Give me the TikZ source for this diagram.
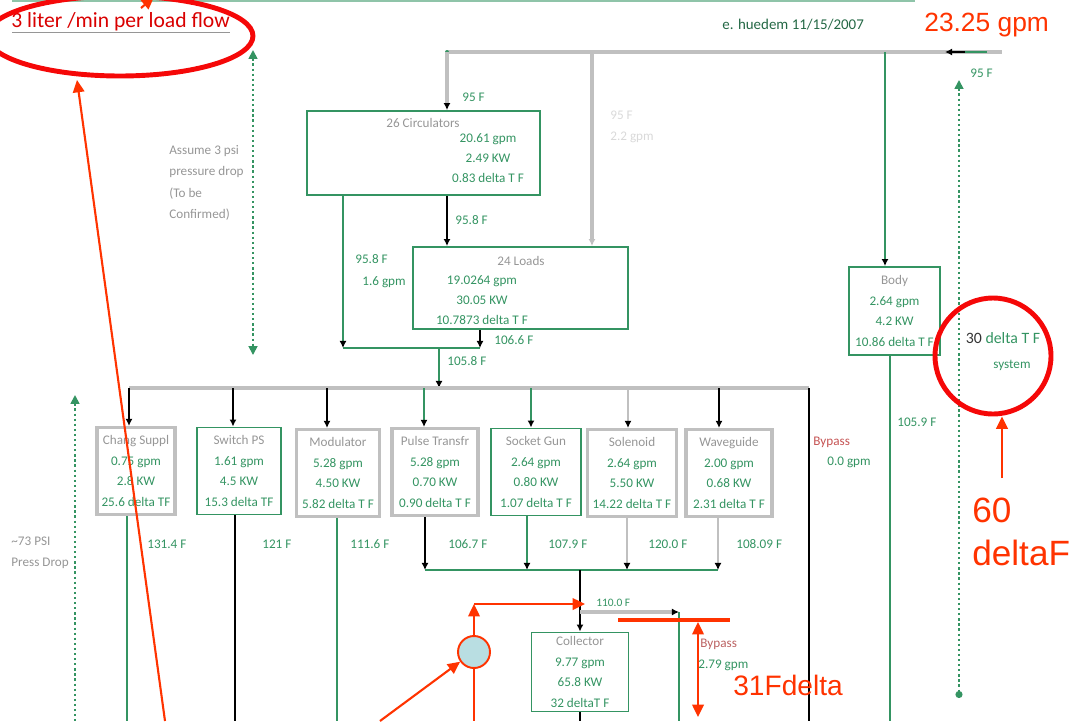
\documentclass[tikz,border=0pt]{standalone}
\usepackage{fontspec}
\setmainfont{Carlito}
\newfontfamily\arialfont{Liberation Sans}
\usetikzlibrary{arrows.meta,shapes.geometric,positioning,calc}
\definecolor{pipegreen}{RGB}{52,148,98}
\definecolor{pipegrey}{RGB}{192,192,192}
\definecolor{notered}{RGB}{255,51,0}
\definecolor{ringred}{RGB}{245,8,8}
\definecolor{titlegrey}{RGB}{150,150,150}
\definecolor{cooler}{RGB}{185,222,226}
\newcommand\unitname[1]{\textcolor{titlegrey}{#1}}

\begin{document}
\begin{tikzpicture}[x=0.02cm, y=-0.02cm,
    unitbox/.style={draw=pipegreen, line width=1.1pt, text=pipegreen, align=center, inner sep=0pt,
        font=\fontsize{7.5}{11.6}\selectfont, minimum height=1.74cm},
    greybox/.style={unitbox, draw=pipegrey, line width=1.8pt},
    tlabel/.style={text=pipegreen, font=\fontsize{7.5}{11.6}\selectfont, inner sep=0pt, anchor=west},
    note/.style={text=titlegrey, font=\fontsize{7.5}{12.2}\selectfont, inner sep=0pt, align=left, anchor=west},
    pipe/.style={pipegreen, line width=1.1pt},
    greypipe/.style={pipegrey, line width=2pt},
    blackpipe/.style={black, line width=1.1pt},
    arr/.style={-{Latex[length=4pt,width=4pt,color=black]}},
    garr/.style={-{Latex[length=4pt,width=4pt,color=pipegrey]}},
    dotline/.style={pipegreen, line width=1pt, dash pattern=on 1.3pt off 1.6pt},
    redarr/.style={notered, line width=1.2pt, -{Triangle[length=7pt,width=6.5pt]}},
    redline/.style={notered, line width=1.2pt},
    ring/.style={draw=ringred, line width=2.8pt, inner sep=0pt}
]
\useasboundingbox (0,0) rectangle (1079,721);

% top rule, title, date
\draw[pipegreen!55, line width=1pt] (12,1) -- (915,1);
\node[inner sep=0pt, anchor=west, text=red!85!black, font=\fontsize{12.3}{14}\selectfont] (title) at (11,22) {3 liter /min per load flow};
\draw[titlegrey, line width=0.9pt] ($(title.south west)+(1,1)$) -- ($(title.south east)+(0,1)$);
\node[tlabel, text=pipegreen!70!black, font=\fontsize{8.5}{10}\selectfont] (date) at (722,25) {e. huedem 11/15/2007};
\node[inner sep=0pt, anchor=west, text=notered, font=\arialfont\fontsize{15}{18}\selectfont] (flowin) at (924,25) {23.25 gpm};

% supply line
\coordinate (s0) at (447,52);
\coordinate (s1) at (592,52);
\coordinate (s2) at (885,52);
\coordinate (s3) at (1002,52);
\coordinate (inA) at (987,52);
\coordinate (inB) at (965,52);
\coordinate (inC) at (945,52);
\draw[greypipe] (s0) -- (s3);
\draw[pipe] (inA) -- (inB);
\draw[blackpipe, arr] (inB) -- (inC);
\fill[pipegreen] (s0) circle (2);
\node[tlabel] (t95r) at (970,73) {95 F};

% circulators and loads
\node[unitbox, minimum width=4.66cm, minimum height=1.68cm] (circ) at (423.5,153) {};
\node[tlabel, anchor=center, text=titlegrey] (circT) at (423,123) {26 Circulators};
\node[tlabel, anchor=center, align=center] (circV) at (488,158) {20.61 gpm\\2.49 KW\\0.83 delta T F};
\node[tlabel] (t95) at (462,97) {95 F};
\draw[greypipe, arr] (s0) -- (s0 |- circ.north);

\node[unitbox, minimum width=4.3cm, minimum height=1.64cm] (loads) at (520.5,288) {};
\node[tlabel, anchor=center, text=titlegrey] (loadsT) at (521,261) {24 Loads};
\node[tlabel, anchor=center, align=center] (loadsV) at (482,300) {19.0264 gpm\\30.05 KW\\10.7873 delta T F};
\draw[blackpipe, arr] (circ.south -| s0) -- (loads.north -| s0);
\node[tlabel] (t958) at (455,220) {95.8 F};
\draw[greypipe, garr] (s1) -- (s1 |- loads.north);
\node[note, text=gray!30, align=left] (faint) at (610,127) {95 F\\2.2 gpm};

\coordinate (m0) at (343,348);
\coordinate (m1) at (439,348);
\coordinate (m2) at (480,348);
\draw[pipe, arr] (circ.south -| m0) -- (m0);
\draw[pipe] (m0) -- (m2);
\draw[blackpipe, arr] (loads.south -| m2) -- (m2);
\node[tlabel] (t958b) at (355,259) {95.8 F};
\node[tlabel] (t16) at (362,282) {1.6 gpm};
\node[tlabel] (t1066) at (494,340) {106.6 F};
\node[tlabel] (t1058) at (447,361) {105.8 F};

% load header
\coordinate (h0) at (129,388);
\coordinate (h8) at (809,388);
\coordinate (b8) at (809,721);
\draw[pipe, arr] (m1) -- (m1 |- h0);
\draw[greypipe] (h0) -- (h8);
\draw[blackpipe] (h8) -- (b8);
\node[tlabel, text=red!45!titlegrey] (byp1) at (813,442) {Bypass};
\node[tlabel] (byp1f) at (827,462) {0.0 gpm};

% load units
\node[greybox, minimum width=1.56cm] (chang) at (136,471) {\unitname{Chang Suppl}\\0.75 gpm\\2.8 KW\\25.6 delta TF};
\node[unitbox, minimum width=1.68cm] (switch) at (239,471) {\unitname{Switch PS}\\1.61 gpm\\4.5 KW\\15.3 delta TF};
\node[greybox, minimum width=1.66cm] (modul) at (338,473) {\unitname{Modulator}\\5.28 gpm\\4.50 KW\\5.82 delta T F};
\node[greybox, minimum width=1.72cm] (pulse) at (435,472) {\unitname{Pulse Transfr}\\5.28 gpm\\0.70 KW\\0.90 delta T F};
\node[unitbox, minimum width=1.8cm] (socket) at (536,472) {\unitname{Socket Gun}\\2.64 gpm\\0.80 KW\\1.07 delta T F};
\node[greybox, minimum width=1.78cm] (solen) at (632,473) {\unitname{Solenoid}\\2.64 gpm\\5.50 KW\\14.22 delta T F};
\node[greybox, minimum width=1.72cm] (waveg) at (729,473) {\unitname{Waveguide}\\2.00 gpm\\0.68 KW\\2.31 delta T F};

\foreach \x/\b/\c in {129/chang/black, 233/switch/black, 327/modul/black, 424/pulse/pipegreen,
                      531/socket/pipegreen, 628/solen/pipegrey, 719/waveg/black}
    \draw[\c, line width=1.1pt, arr] (\x,388) -- (\x,388 |- \b.north);

\foreach \x/\b/\c in {127/chang/pipegreen, 235/switch/black, 337/modul/pipegreen}
    \draw[\c, line width=1.1pt] (\x,388 |- \b.south) -- (\x,721);
\foreach \x/\b/\c in {425/pulse/black, 527/socket/pipegreen, 627/solen/pipegrey, 718/waveg/pipegrey}
    \draw[\c, line width=1.1pt, arr] (\x,388 |- \b.south) -- (\x,570);

\foreach \x/\t [count=\i] in {147/131.4, 262/121, 350/111.6, 448/106.7, 548/107.9, 648/120.0, 736/108.09}
    \node[tlabel] (tout\i) at (\x,544) {\t\ F};

% collector
\coordinate (k0) at (425,570);
\coordinate (k1) at (580,570);
\coordinate (k2) at (718,570);
\coordinate (y0) at (580,612);
\coordinate (y1) at (679,612);
\coordinate (y2) at (679,721);
\node[unitbox, minimum width=1.94cm, minimum height=1.58cm] (coll) at (580,672) {\unitname{Collector}\\9.77 gpm\\65.8 KW\\32 deltaT F};
\draw[pipe] (k0) -- (k2);
\draw[blackpipe, arr] (k1) -- (coll.north);
\draw[greypipe, arr] (y0) -- (y1);
\draw[pipe] (y1) -- (y2);
\draw[blackpipe] (coll.south) -- (580,721);
\node[tlabel, font=\fontsize{6.5}{8}\selectfont] (t110) at (596,603) {110.0 F};
\node[tlabel, text=red!35!titlegrey] (byp2) at (700,644) {Bypass};
\node[tlabel] (byp2f) at (698,665) {2.79 gpm};

% body
\node[unitbox, minimum width=1.82cm, minimum height=1.76cm] (body) at (894.5,311) {\unitname{Body}\\2.64 gpm\\4.2 KW\\10.86 delta T F};
\coordinate (bo) at (890,721);
\draw[pipe, arr] (s2) -- (s2 |- body.north);
\draw[pipe] (body.south -| bo) -- (bo);
\node[tlabel] (t1059) at (897,422) {105.9 F};

% pressure drop marks
\coordinate (v0) at (959,80);
\coordinate (v1) at (959,698);
\draw[dotline, {Triangle[length=5pt,width=5pt]}-{Circle[length=4pt]}] (v0) -- (v1);
\coordinate (w0) at (253,50);
\coordinate (w1) at (253,355);
\draw[dotline, {Triangle[length=5pt,width=5pt]}-{Triangle[length=5pt,width=5pt]}] (w0) -- (w1);
\node[note] (assume) at (169,183) {Assume 3 psi\\pressure drop\\(To be\\Confirmed)};
\coordinate (u0) at (75,395);
\coordinate (u1) at (75,721);
\draw[dotline, {Triangle[length=5pt,width=5pt]}-] (u0) -- (u1);
\node[note, align=left] (psinote) at (11,553) {\textasciitilde 73 PSI\\Press Drop};

% system note
\node[inner sep=0pt, text=pipegreen, font=\fontsize{9}{11}\selectfont] (sys30) at (1003,338) {\textcolor{black!80}{30} delta T F};
\node[tlabel, anchor=center] (sysname) at (1012,365) {system};
\node[ring, circle, minimum size=2.32cm] (ring2) at (993,356) {};
\coordinate (q1) at (1002,478);
\draw[redarr] (q1) -- (q1 |- ring2.south);
\node[inner sep=0pt, anchor=west, align=left, text=notered, font=\arialfont\fontsize{20}{24.5}\selectfont] (d60) at (972,532) {60\\deltaF};

% title ring
\node[ring, ellipse, minimum width=5.32cm, minimum height=1.6cm] (ring1) at (120,36) {};
\coordinate (a1) at (165,721);
\coordinate (a2) at (77,80);
\draw[redarr] (a1) -- (a2);
\coordinate (a3) at (141,8);
\coordinate (a4) at (154,-3);
\draw[redarr] (a3) -- (a4);

% bypass drop mark
\coordinate (r0) at (618,620);
\coordinate (r1) at (730,620);
\draw[notered, line width=2.4pt] (r0) -- (r1);
\coordinate (r2) at (698,622);
\coordinate (r3) at (698,717);
\draw[redline, {Triangle[length=7pt,width=6.5pt]}-{Triangle[length=7pt,width=6.5pt]}] (r2) -- (r3);
\node[inner sep=0pt, anchor=west, text=notered, font=\arialfont\fontsize{16}{19}\selectfont] (d31) at (733,685) {31Fdelta};

% cooler
\node[circle, draw=notered, fill=cooler, line width=1.1pt, minimum size=0.64cm, inner sep=0pt] (pump) at (474,652) {};
\coordinate (p1) at (474,604);
\coordinate (p2) at (585,604);
\coordinate (p3) at (474,721);
\coordinate (p4) at (380,721);
\draw[redarr] (pump.north) -- (p1);
\draw[redarr] (p1) -- (p2);
\draw[redline] (pump.south) -- (p3);
\draw[redarr] (p4) -- (pump.215);
\end{tikzpicture}
\end{document}
